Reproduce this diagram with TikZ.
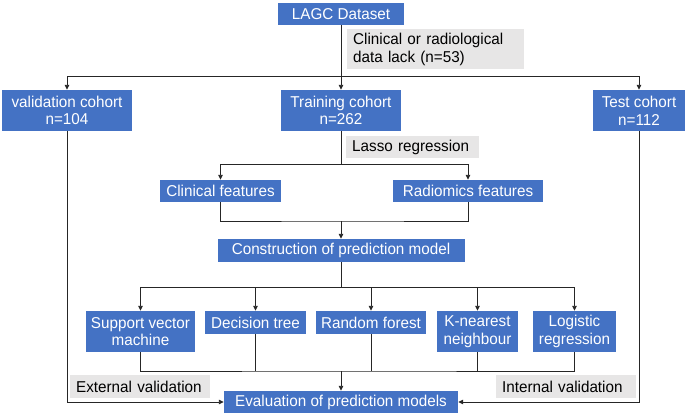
\documentclass[tikz,border=0pt]{standalone}
\usepackage{fontspec}
\setmainfont{Liberation Sans}[FakeStretch=0.97]
\usepackage{xcolor}
\usetikzlibrary{arrows.meta,positioning,calc}

\definecolor{boxblue}{HTML}{4472C4}
\definecolor{notegray}{HTML}{E7E6E6}
\definecolor{linegray}{HTML}{262626}

\begin{document}
\begin{tikzpicture}[x=1pt, y=-1pt, every node/.style={font=\fontsize{15.7}{17.7}\selectfont},
	box/.style={rectangle, fill=boxblue, text=white, align=center, inner sep=0pt},
	note/.style={rectangle, fill=notegray, text=black, align=left, inner xsep=6pt, inner ysep=0pt, anchor=north west},
	link/.style={draw=linegray, line width=0.9pt},
	arr/.style={link, -{Triangle[length=5pt, width=4.5pt]}}]
	\useasboundingbox (0,0) rectangle (685,416);
	
	% blue boxes
	\node[box, minimum width=126, minimum height=22] (data) at (341,14) {LAGC Dataset};
	\node[box, minimum width=130, minimum height=41] (val) at (67,110.5) {validation cohort\\n=104};
	\node[box, minimum width=120, minimum height=41] (train) at (341,110.5) {Training cohort\\n=262};
	\node[box, minimum width=92, minimum height=41] (test) at (639,110.5) {Test cohort\\n=112};
	\node[box, minimum width=121, minimum height=22] (clin) at (220.5,191) {Clinical features};
	\node[box, minimum width=150, minimum height=22] (radio) at (468,191) {Radiomics features};
	\node[box, minimum width=247, minimum height=23] (constr) at (341,250.5) {Construction of prediction model};
	\node[box, minimum width=109, minimum height=41] (svm) at (140.5,331.5) {Support vector\\machine};
	\node[box, minimum width=101, minimum height=23] (dt) at (255.5,322.5) {Decision tree};
	\node[box, minimum width=110, minimum height=23] (rf) at (371,322.5) {Random forest};
	\node[box, minimum width=81, minimum height=41] (knn) at (477.5,331.5) {K-nearest\\neighbour};
	\node[box, minimum width=83, minimum height=41] (lr) at (574.5,331.5) {Logistic\\regression};
	\node[box, minimum width=234, minimum height=22] (eval) at (341,402) {Evaluation of prediction models};
	
	% grey notes
	\node[note, text width=165, minimum height=40] (lack) at (347,29) {Clinical or radiological\\data lack (n=53)};
	\node[note, text width=121, minimum height=22] (lasso) at (346,136) {Lasso regression};
	\node[note, text width=128, minimum height=23] (ext) at (70,375) {External validation};
	\node[note, text width=128, minimum height=23] (int) at (496,375) {Internal validation};
	
	% connectors
	\coordinate (s1) at (341,76);
	\coordinate (s2) at (341,164);
	\coordinate (j1) at (341,221);
	\coordinate (s3) at (341,287);
	\coordinate (j2) at (341,371);
	
	\draw[link] (data) -- (s1);
	\draw[arr] (s1) -| (val);
	\draw[arr] (s1) -- (train);
	\draw[arr] (s1) -| (test);
	
	\draw[link] (train) -- (s2);
	\draw[arr] (s2) -| (clin);
	\draw[arr] (s2) -| (radio);
	
	\draw[link] (clin) |- (j1) -| (radio);
	\draw[arr] (j1) -- (constr);
	
	\draw[link] (constr) -- (s3);
	\draw[arr] (s3) -| (svm);
	\draw[arr] (s3) -| (dt);
	\draw[arr] (s3) -| (rf);
	\draw[arr] (s3) -| (knn);
	\draw[arr] (s3) -| (lr);
	
	\draw[link] (svm) |- (j2) -| (lr);
	\draw[link] (dt) -- (dt |- j2);
	\draw[link] (rf) -- (rf |- j2);
	\draw[link] (knn) -- (knn |- j2);
	\draw[arr] (j2) -- (eval);
	
	\draw[arr] (val) |- (eval);
	\draw[arr] (test) |- (eval);
\end{tikzpicture}
\end{document}
